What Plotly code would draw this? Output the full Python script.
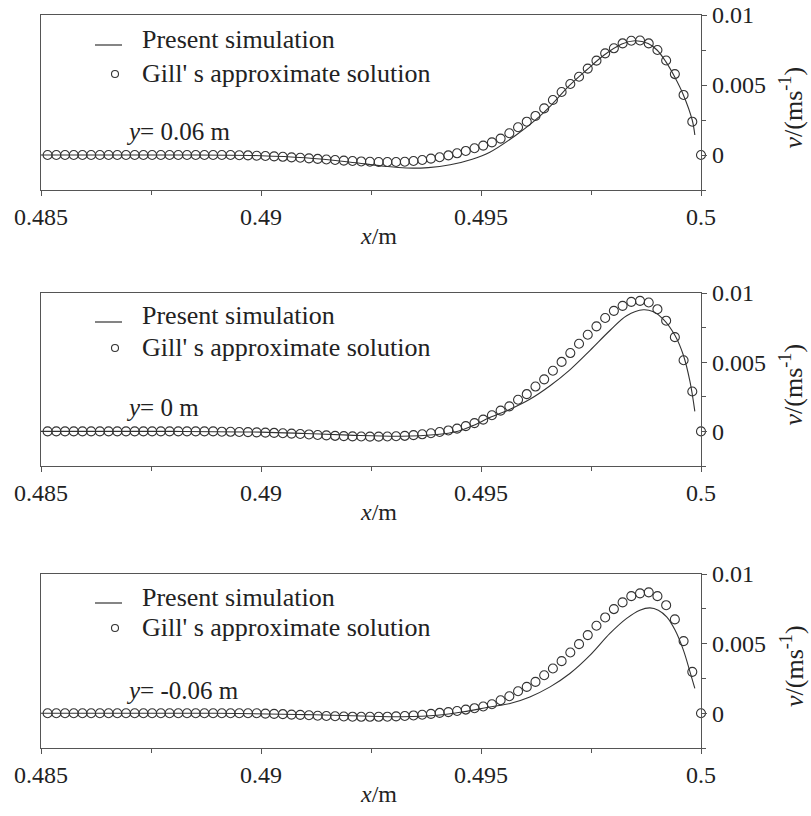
import numpy as np
import plotly.graph_objects as go

# ---------------- data ----------------
x_gill = np.linspace(0.48515, 0.5, 76)

gill_top = [0.0] * 21 + [
    0.0, -0.00002, -0.00003, -0.00005, -0.00007, -0.0001, -0.00013, -0.00017, -0.0002, -0.00024,
    -0.00028, -0.00032, -0.00036, -0.0004, -0.00043, -0.00046, -0.00048, -0.0005, -0.0005, -0.0005,
    -0.00048, -0.00043, -0.00036, -0.00026, -0.00016, -0.00003, 0.00012, 0.00029, 0.00048, 0.00067,
    0.0009, 0.00117, 0.00155, 0.00198, 0.00238, 0.00279, 0.00333, 0.00393, 0.0045, 0.00507,
    0.00559, 0.00617, 0.00674, 0.00726, 0.00762, 0.00797, 0.00816, 0.00818, 0.00797, 0.0075,
    0.00675, 0.00578, 0.00429, 0.00238, 0.0]

gill_mid = [0.0] * 20 + [
    -0.00002, -0.00003, -0.00004, -0.00005, -0.00007, -0.00009, -0.00011, -0.00013, -0.00016, -0.00019,
    -0.00022, -0.00026, -0.00029, -0.00032, -0.00034, -0.00036, -0.00037, -0.00038, -0.00038, -0.00037,
    -0.00035, -0.00032, -0.00027, -0.00021, -0.00013, -0.00004, 0.00007, 0.0002, 0.00038, 0.0006,
    0.00085, 0.00117, 0.0015, 0.00181, 0.00229, 0.00269, 0.00324, 0.00376, 0.00438, 0.00502,
    0.00566, 0.00633, 0.00698, 0.00759, 0.00819, 0.00871, 0.00907, 0.00936, 0.00943, 0.00931,
    0.00883, 0.008, 0.00681, 0.00514, 0.00288, 0.0]

gill_bot = [0.0] * 25 + [
    -0.00003, -0.00005, -0.00007, -0.0001, -0.00012, -0.00015, -0.00018, -0.0002, -0.00022, -0.00024,
    -0.00025, -0.00026, -0.00026, -0.00026, -0.00025, -0.00023, -0.0002, -0.00016, -0.00011, -0.00005,
    0.00002, 0.00008, 0.00016, 0.00026, 0.00036, 0.00048, 0.00064, 0.00093, 0.00122, 0.00158,
    0.00189, 0.00225, 0.00273, 0.00321, 0.00374, 0.00436, 0.00496, 0.00561, 0.00628, 0.00688,
    0.00748, 0.00796, 0.00841, 0.00861, 0.00868, 0.00841, 0.00776, 0.00674, 0.00518, 0.00297, 0.0]

sim_x_top = [0.485, 0.488, 0.490, 0.491, 0.492, 0.4928, 0.4933, 0.4938, 0.4943, 0.4948, 0.4952,
             0.4958, 0.4962, 0.4966, 0.4970, 0.4974, 0.4978, 0.4982, 0.4985, 0.4988, 0.4990,
             0.4992, 0.4994, 0.4996, 0.4998, 0.49986]
sim_top = [0.0, 0.0, -0.00005, -0.0002, -0.0005, -0.0008, -0.00093, -0.0009, -0.0007, -0.0003, 0.0002,
           0.00143, 0.0024, 0.00357, 0.00493, 0.00607, 0.00714, 0.00793, 0.00816, 0.00797, 0.0075,
           0.00667, 0.00559, 0.00429, 0.0025, 0.00143]

sim_x_mid = [0.485, 0.488, 0.490, 0.491, 0.492, 0.4932, 0.494, 0.4944, 0.4948, 0.4952, 0.49566,
             0.49611, 0.49657, 0.49702, 0.49748, 0.49793, 0.49831, 0.49869, 0.49892, 0.49914,
             0.49941, 0.4996, 0.49975, 0.49986]
sim_mid = [0.0, 0.0, -0.00005, -0.00015, -0.00027, -0.00035, -0.00022, -0.00005, 0.0004, 0.001, 0.0016,
           0.00232, 0.0033, 0.00445, 0.00586, 0.00729, 0.00836, 0.00879, 0.00864, 0.00812,
           0.00693, 0.0055, 0.00359, 0.00145]

sim_x_bot = [0.485, 0.489, 0.491, 0.4925, 0.4932, 0.494, 0.4946, 0.4952, 0.49566, 0.49611, 0.49657,
             0.49702, 0.49748, 0.49793, 0.49831, 0.49861, 0.49884, 0.49903, 0.49922, 0.49941,
             0.4996, 0.49975, 0.49986]
sim_bot = [0.0, 0.0, -0.0001, -0.00022, -0.00025, -0.00015, 0.0001, 0.00045, 0.0007, 0.00117, 0.00189,
           0.00285, 0.00417, 0.00573, 0.00681, 0.0074, 0.00757, 0.0074, 0.00692, 0.00597,
           0.00453, 0.00297, 0.00178]

labels_y = ["0.06", "0", "-0.06"]
legend_line = "Present simulation"
legend_circ = "Gill' s approximate solution"

# ---------------- layout helpers ----------------
W, H = 811, 816
ML, MR = 41, 110
PW = W - ML - MR
FONT = "Liberation Serif"
AX = "#555555"
INK = "#333333"
TXT = "#222222"

def px(xp):
    return (xp - ML) / PW

def py(yp):
    return 1 - yp / H

panels = [(15, 190), (293, 466), (574, 748)]
sims = [(sim_x_top, sim_top), (sim_x_mid, sim_mid), (sim_x_bot, sim_bot)]
gills = [gill_top, gill_mid, gill_bot]

fig = go.Figure()
annotations = []
shapes = []
layout = {}

for i, ((top, bot), (sx, sv), gv, lab) in enumerate(zip(panels, sims, gills, labels_y)):
    n = "" if i == 0 else str(i + 1)
    xa, ya = "x" + n, "y" + n
    fig.add_trace(go.Scatter(x=sx, y=sv, mode="lines", xaxis=xa, yaxis=ya,
                             line=dict(color=INK, width=1.1, shape="spline"),
                             showlegend=False, hoverinfo="skip"))
    fig.add_trace(go.Scatter(x=x_gill, y=gv, mode="markers", xaxis=xa, yaxis=ya,
                             marker=dict(symbol="circle-open", size=9, color=INK,
                                         line=dict(width=1.1, color=INK)),
                             cliponaxis=False, showlegend=False, hoverinfo="skip"))
    layout["xaxis" + n] = dict(
        domain=[0, 1], anchor=ya, range=[0.485, 0.5], tickmode="linear", tick0=0.485, dtick=0.005,
        ticks="outside", ticklen=5, tickwidth=1.2, tickcolor=AX, automargin=False,
        minor=dict(ticks="outside", ticklen=4, tickwidth=1.2, tickcolor=AX, dtick=0.0025, tick0=0.485),
        showline=True, linecolor=AX, linewidth=1.4, mirror=True, showgrid=False, zeroline=False,
        tickfont=dict(family=FONT, size=24, color=TXT),
    )
    layout["yaxis" + n] = dict(
        domain=[py(bot), py(top)], anchor=xa, side="right", range=[-0.0025, 0.01],
        tickmode="linear", tick0=0, dtick=0.005, automargin=False,
        ticks="outside", ticklen=5, tickwidth=1.2, tickcolor=AX,
        minor=dict(ticks="outside", ticklen=4, tickwidth=1.2, tickcolor=AX, dtick=0.0025, tick0=0),
        showline=True, linecolor=AX, linewidth=1.4, mirror=True, showgrid=False, zeroline=False,
        tickfont=dict(family=FONT, size=24, color=TXT),
    )
    # x-axis title
    annotations.append(dict(text="<i>x</i>/m", x=px(378), y=py(bot + 46), xref="paper", yref="paper",
                            showarrow=False, font=dict(family=FONT, size=24, color=TXT),
                            xanchor="center", yanchor="middle"))
    # y-axis title
    annotations.append(dict(text="<i>v</i>/(ms<sup>-1</sup>)", x=px(792), y=py((top + bot) / 2 + 5),
                            xref="paper", yref="paper", textangle=-90, showarrow=False,
                            font=dict(family=FONT, size=26, color=TXT),
                            xanchor="center", yanchor="middle"))
    # position label
    lab_y = [131, 407, 690][i]
    annotations.append(dict(text="<i>y</i>= " + lab + " m", x=px(124), y=py(lab_y), xref="paper", yref="paper",
                            showarrow=False, font=dict(family=FONT, size=25, color=TXT),
                            xanchor="left", yanchor="middle"))
    # legend (drawn manually)
    l1 = [39, 316, 597][i]
    l2 = [73, 347, 627][i]
    annotations.append(dict(text=legend_line, x=px(140), y=py(l1), xref="paper", yref="paper",
                            showarrow=False, font=dict(family=FONT, size=26, color=TXT),
                            xanchor="left", yanchor="middle"))
    annotations.append(dict(text=legend_circ, x=px(140), y=py(l2), xref="paper", yref="paper",
                            showarrow=False, font=dict(family=FONT, size=26, color=TXT),
                            xanchor="left", yanchor="middle"))
    shapes.append(dict(type="line", xref="paper", yref="paper", x0=px(95), x1=px(122),
                       y0=py(l1 + 6), y1=py(l1 + 6), line=dict(color=INK, width=1.2)))
    r = 3.5
    shapes.append(dict(type="circle", xref="paper", yref="paper",
                       x0=px(115 - r), x1=px(115 + r), y0=py(l2 + 1 + r), y1=py(l2 + 1 - r),
                       line=dict(color=INK, width=1.1)))

fig.update_layout(
    width=W, height=H, margin=dict(l=ML, r=MR, t=0, b=0, autoexpand=False),
    paper_bgcolor="white", plot_bgcolor="white",
    font=dict(family=FONT, size=24, color=TXT),
    annotations=annotations, shapes=shapes, showlegend=False,
    **layout,
)

fig.write_html("out.html")
